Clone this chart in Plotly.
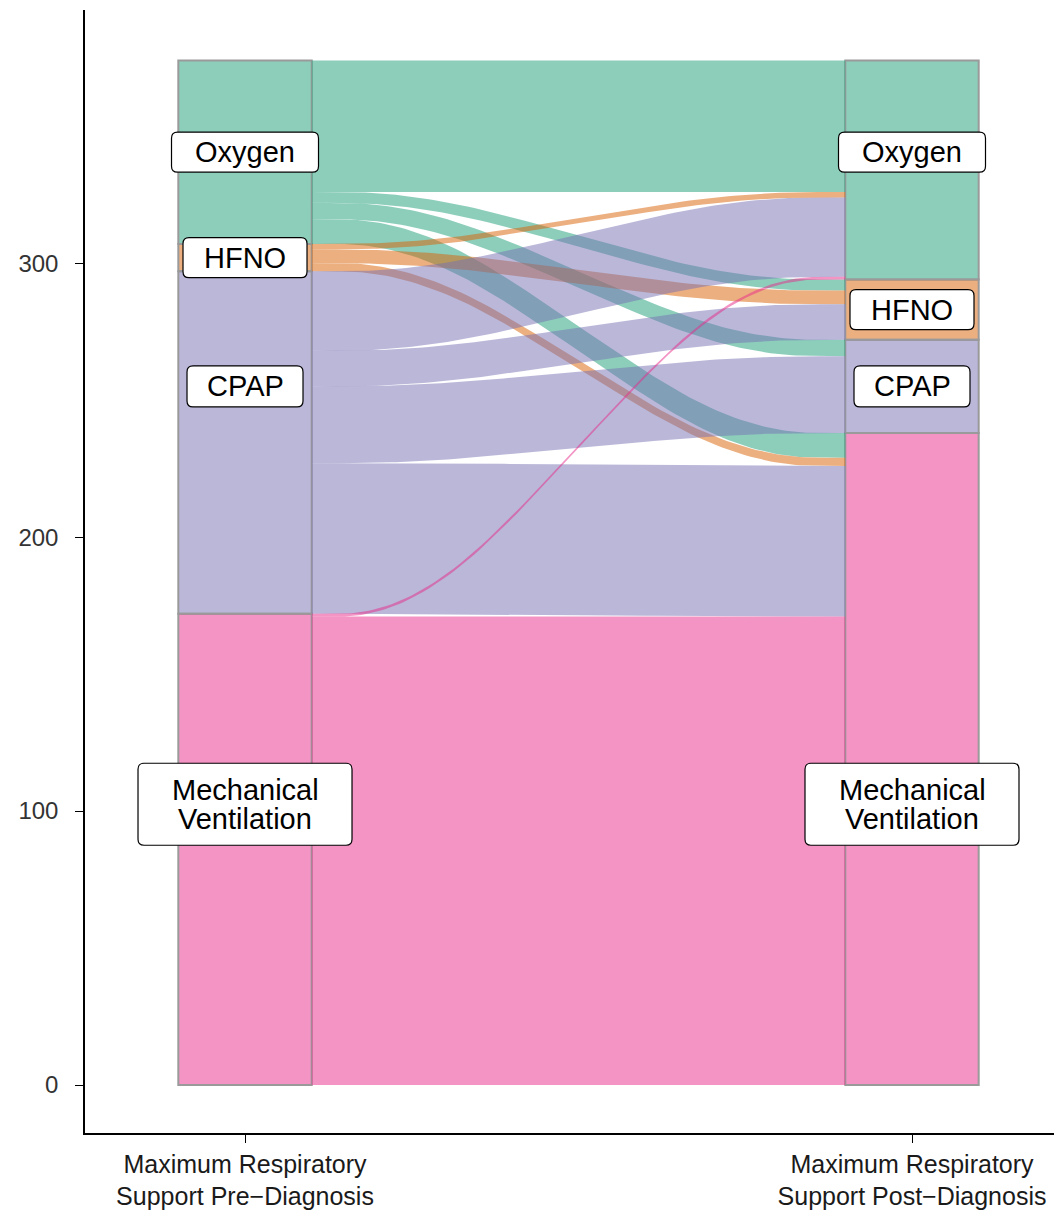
import numpy as np
import plotly.graph_objects as go

# ---------------- data ----------------
levels = ["Oxygen", "HFNO", "CPAP", "Mechanical Ventilation"]
label_text = ["Oxygen", "HFNO", "CPAP", "Mechanical<br>Ventilation"]
axis_names = ["Maximum Respiratory<br>Support Pre\u2212Diagnosis",
              "Maximum Respiratory<br>Support Post\u2212Diagnosis"]

flow_from = ["Oxygen", "Oxygen", "Oxygen", "Oxygen",
             "HFNO", "HFNO", "HFNO",
             "CPAP", "CPAP", "CPAP", "CPAP",
             "Mechanical Ventilation", "Mechanical Ventilation"]
flow_to = ["Oxygen", "HFNO", "CPAP", "Mechanical Ventilation",
           "Oxygen", "HFNO", "Mechanical Ventilation",
           "Oxygen", "HFNO", "CPAP", "Mechanical Ventilation",
           "Oxygen", "Mechanical Ventilation"]
flow_n = [48, 4, 6, 9,
          2, 5, 3,
          29, 13, 28, 55,
          1, 171]

# label heights (as placed in the original figure)
label_y_pre = [340.5, 302.0, 255.0, 102.5]
label_y_post = [340.5, 283.0, 255.0, 102.5]

y_ticks = [0, 100, 200, 300]

# ---------------- styling ----------------
fill = {
    "Oxygen": "rgba(27,158,119,0.5)",
    "HFNO": "rgba(217,95,2,0.5)",
    "CPAP": "rgba(117,112,179,0.5)",
    "Mechanical Ventilation": "rgba(231,41,138,0.5)",
}
box_w = {"Oxygen": 147, "HFNO": 124, "CPAP": 116, "Mechanical Ventilation": 214}
box_h = {"Oxygen": 40, "HFNO": 40, "CPAP": 41, "Mechanical Ventilation": 82}
W = 0.2          # stratum width
KNOT = 0.25      # x-spline knot position
FONT = "Liberation Sans, Arial, Helvetica, sans-serif"
LABEL_SIZE = 29
LINE_PITCH = 29  # px between label lines

# ---------------- computations ----------------
pre_count = {l: sum(n for f, n in zip(flow_from, flow_n) if f == l) for l in levels}
post_count = {l: sum(n for t, n in zip(flow_to, flow_n) if t == l) for l in levels}


def bottoms(counts):
    b, acc = {}, 0
    for l in reversed(levels):
        b[l] = acc
        acc += counts[l]
    return b


pre_bot = bottoms(pre_count)
post_bot = bottoms(post_count)

flows = {(f, t): n for f, t, n in zip(flow_from, flow_to, flow_n)}

# left positions: within source stratum ordered by destination
left_span = {}
for s in levels:
    ptr = pre_bot[s] + pre_count[s]
    for d in levels:
        if (s, d) in flows:
            n = flows[(s, d)]
            left_span[(s, d)] = (ptr - n, ptr)
            ptr -= n
# right positions: within destination stratum ordered by source
right_span = {}
for d in levels:
    ptr = post_bot[d] + post_count[d]
    for s in levels:
        if (s, d) in flows:
            n = flows[(s, d)]
            right_span[(s, d)] = (ptr - n, ptr)
            ptr -= n


def xspline():
    ctrl = np.array([(0, 0), (0, 0), (0, 0), (KNOT, 0), (1 - KNOT, 1),
                     (1, 1), (1, 1), (1, 1)], dtype=float)
    pts = []
    for i in range(len(ctrl) - 3):
        P = ctrl[i:i + 4]
        for t in np.linspace(0, 1, 30)[(0 if i == 0 else 1):]:
            b = np.array([(1 - t) ** 3,
                          3 * t ** 3 - 6 * t ** 2 + 4,
                          -3 * t ** 3 + 3 * t ** 2 + 3 * t + 1,
                          t ** 3]) / 6.0
            pts.append(b @ P)
    pts = np.array(pts)
    return pts[:, 0], pts[:, 1]


u, v = xspline()
x0, x1 = 1 + W / 2, 2 - W / 2
xs = x0 + (x1 - x0) * u

fig = go.Figure()

# flows (drawn in source order)
for s in levels:
    for d in levels:
        if (s, d) not in flows:
            continue
        lb, lt = left_span[(s, d)]
        rb, rt = right_span[(s, d)]
        top = lt + (rt - lt) * v
        bot = lb + (rb - lb) * v
        fig.add_trace(go.Scatter(
            x=np.concatenate([xs, xs[::-1]]),
            y=np.concatenate([top, bot[::-1]]),
            mode="lines", fill="toself", fillcolor=fill[s],
            line=dict(width=0, color="rgba(0,0,0,0)"),
            hoverinfo="skip", showlegend=False))

# strata
for l in levels:
    fig.add_trace(go.Bar(
        x=[1, 2], y=[pre_count[l], post_count[l]],
        base=[pre_bot[l], post_bot[l]], width=W,
        marker=dict(color=fill[l], line=dict(color="#9a9a9a", width=2)),
        hoverinfo="skip", showlegend=False))


def rounded(w, h, r=6):
    a, b = w / 2, h / 2
    return (f"M {-a + r},{-b} L {a - r},{-b} Q {a},{-b} {a},{-b + r} "
            f"L {a},{b - r} Q {a},{b} {a - r},{b} L {-a + r},{b} "
            f"Q {-a},{b} {-a},{b - r} L {-a},{-b + r} Q {-a},{-b} {-a + r},{-b} Z")


shapes, annotations = [], []
for xpos, ys in ((1, label_y_pre), (2, label_y_post)):
    for l, txt, yy in zip(levels, label_text, ys):
        shapes.append(dict(
            type="path", xref="x", yref="y",
            xsizemode="pixel", ysizemode="pixel",
            xanchor=xpos, yanchor=yy,
            path=rounded(box_w[l], box_h[l]),
            fillcolor="white", line=dict(color="black", width=1.2),
            layer="above"))
        lines = txt.split("<br>")
        k = len(lines)
        for i, line in enumerate(lines):
            annotations.append(dict(
                x=xpos, y=yy, xref="x", yref="y", text=line, showarrow=False,
                yshift=((k - 1) / 2 - i) * LINE_PITCH,
                font=dict(family=FONT, size=LABEL_SIZE, color="black"),
                align="center", xanchor="center", yanchor="middle"))

# the page body adds an 8px offset; compensate so the plot sits like the original
fig.update_layout(
    width=1054, height=1203,
    margin=dict(l=77, r=0, t=2, b=78, autoexpand=False),
    paper_bgcolor="white", plot_bgcolor="white",
    barmode="overlay", showlegend=False,
    shapes=shapes, annotations=annotations,
    font=dict(family=FONT),
    xaxis=dict(range=[0.7601, 2.2249], tickmode="array", tickvals=[1, 2],
               ticktext=axis_names, showline=True, linecolor="black",
               linewidth=1.5, ticks="outside", ticklen=8, tickwidth=1.3,
               tickcolor="black", showgrid=False, zeroline=False,
               automargin=False,
               tickfont=dict(family=FONT, size=25, color="#1a1a1a")),
    yaxis=dict(range=[-17.5, 392.4], tickmode="array", tickvals=y_ticks,
               showline=True, linecolor="black", linewidth=1.5,
               ticks="outside", ticklen=8, tickwidth=1.3, tickcolor="black",
               showgrid=False, zeroline=False, ticklabelstandoff=12,
               automargin=False,
               tickfont=dict(family=FONT, size=24, color="#333333")),
)

fig.write_html("out.html")
